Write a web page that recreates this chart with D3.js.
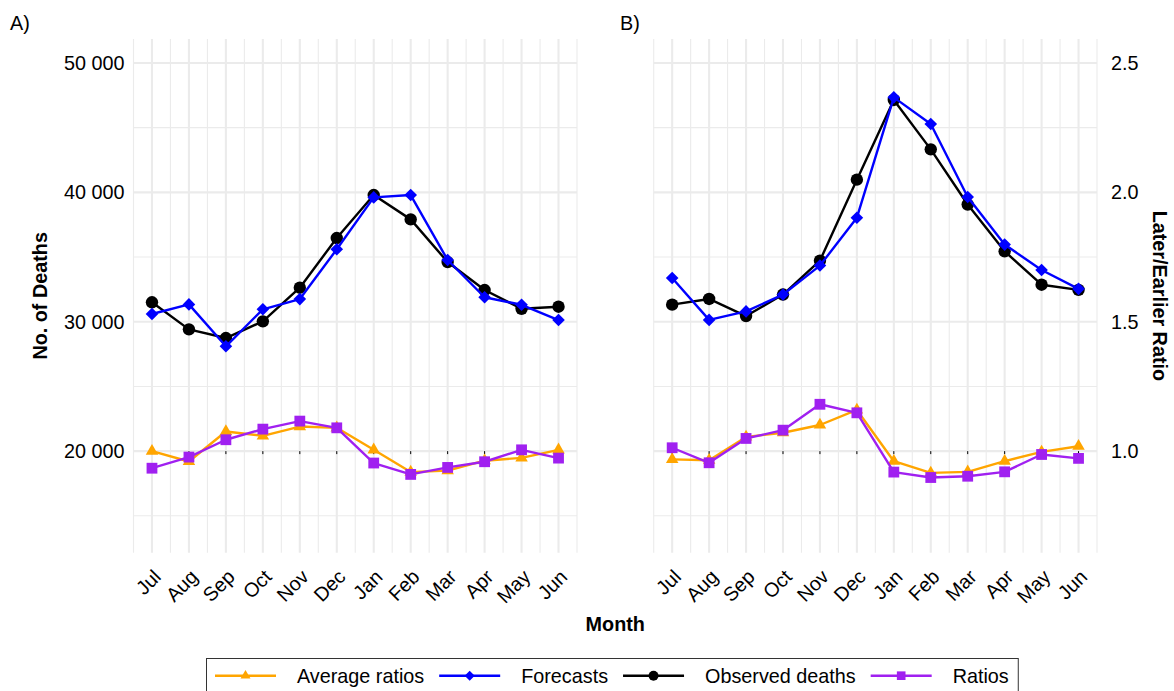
<!DOCTYPE html>
<html>
<head>
<meta charset="utf-8">
<script src="https://cdn.jsdelivr.net/npm/d3@7"></script>
<style>
  html, body { margin: 0; padding: 0; background: #ffffff; }
  svg { display: block; }
  text { font-family: "Liberation Sans", Arial, Helvetica, sans-serif; }
</style>
</head>
<body>
<svg id="chart" width="1174" height="691"></svg>
<script>
// ---------------- DATA ----------------
const months = ["Jul","Aug","Sep","Oct","Nov","Dec","Jan","Feb","Mar","Apr","May","Jun"];

// Panel A (deaths)
const observedA  = [31500, 29410, 28740, 30030, 32630, 36470, 39790, 37910, 34610, 32450, 31000, 31160];
const forecastsA = [30600, 31340, 28100, 30960, 31750, 35600, 39610, 39790, 34770, 31890, 31310, 30130];
// Panel A ratios
const ratiosA    = [0.934, 0.977, 1.044, 1.085, 1.116, 1.090, 0.954, 0.910, 0.937, 0.959, 1.005, 0.973];
const avgRatiosA = [1.000, 0.960, 1.076, 1.059, 1.095, 1.090, 1.005, 0.919, 0.925, 0.963, 0.974, 1.005];

// Panel B (deaths)
const observedB  = [31320, 31760, 30440, 32100, 34720, 40980, 47140, 43320, 39060, 35440, 32860, 32460];
const forecastsB = [33380, 30140, 30800, 32100, 34340, 38040, 47340, 45280, 39640, 35960, 34000, 32540];
// Panel B ratios
const ratiosB    = [1.013, 0.955, 1.049, 1.081, 1.181, 1.148, 0.919, 0.898, 0.903, 0.920, 0.987, 0.972];
const avgRatiosB = [0.968, 0.965, 1.055, 1.071, 1.101, 1.159, 0.961, 0.916, 0.920, 0.961, 0.997, 1.019];

// secondary axis transform: deaths = ratio * ratioScale
const ratioScale = 20000;
const deathTicks = [20000, 30000, 40000, 50000];
const deathMinorTicks = [15000, 25000, 35000, 45000];
const ratioTicks = [1.0, 1.5, 2.0, 2.5];
const yDomain = [12150, 51850];

const seriesNames = ["Average ratios", "Forecasts", "Observed deaths", "Ratios"];
const seriesColors = ["#FFA500", "#0000FF", "#000000", "#A020F0"];
const seriesShapes = ["triangle", "diamond", "circle", "square"];

// ---------------- LAYOUT ----------------
const svg = d3.select("#chart");
const FONT = 19.8;
const plotTop = 39, plotBottom = 552.7;
const panels = [
  { id: "A", label: "A)", labelX: 10, x0: 133.5, x1: 577,
    obs: observedA, fc: forecastsA, ratio: ratiosA, avg: avgRatiosA, axis: "left" },
  { id: "B", label: "B)", labelX: 620, x0: 653.7, x1: 1097,
    obs: observedB, fc: forecastsB, ratio: ratiosB, avg: avgRatiosB, axis: "right" }
];

const y = d3.scaleLinear().domain(yDomain).range([plotBottom, plotTop]);

function shapePath(shape, s) {
  if (shape === "circle") return d3.symbol(d3.symbolCircle, Math.PI * (6.2 * s) ** 2)();
  if (shape === "square") { const h = 5.4 * s; return `M${-h},${-h}H${h}V${h}H${-h}Z`; }
  if (shape === "diamond") { const h = 6.3 * s; return `M0,${-h}L${h},0L0,${h}L${-h},0Z`; }
  if (shape === "triangle") {
    const w = 12.5 * s, hgt = w * Math.sqrt(3) / 2;
    return `M0,${-hgt * 2 / 3}L${w / 2},${hgt / 3}L${-w / 2},${hgt / 3}Z`;
  }
}

panels.forEach(p => {
  const x = d3.scaleLinear().domain([-0.5, months.length - 0.5]).range([p.x0, p.x1]);
  const g = svg.append("g");

  const minorX = d3.range(-0.5, months.length, 1);
  g.selectAll(".vminor").data(minorX).join("line")
    .attr("x1", d => x(d)).attr("x2", d => x(d))
    .attr("y1", plotTop).attr("y2", plotBottom)
    .attr("stroke", "#ebebeb").attr("stroke-width", 1.1);
  g.selectAll(".hminor").data(deathMinorTicks).join("line")
    .attr("x1", p.x0).attr("x2", p.x1)
    .attr("y1", d => y(d)).attr("y2", d => y(d))
    .attr("stroke", "#ebebeb").attr("stroke-width", 1.1);
  g.selectAll(".vmajor").data(d3.range(months.length)).join("line")
    .attr("x1", d => x(d)).attr("x2", d => x(d))
    .attr("y1", plotTop).attr("y2", plotBottom)
    .attr("stroke", "#ebebeb").attr("stroke-width", 2.1);
  g.selectAll(".hmajor").data(deathTicks).join("line")
    .attr("x1", p.x0).attr("x2", p.x1)
    .attr("y1", d => y(d)).attr("y2", d => y(d))
    .attr("stroke", "#ebebeb").attr("stroke-width", 2.1);

  g.selectAll(".reftick").data(d3.range(months.length)).join("line")
    .attr("x1", d => x(d)).attr("x2", d => x(d))
    .attr("y1", y(ratioScale)).attr("y2", y(ratioScale) + 3)
    .attr("stroke", "#000").attr("stroke-width", 1);

  g.selectAll(".xlab").data(months).join("text")
    .attr("transform", (d, i) => `translate(${x(i)},568) rotate(-45)`)
    .attr("text-anchor", "end").attr("dy", "0.72em")
    .attr("font-size", FONT).attr("fill", "#000").text(d => d);

  if (p.axis === "left") {
    g.selectAll(".ylab").data(deathTicks).join("text")
      .attr("x", p.x0 - 9).attr("y", d => y(d)).attr("dy", "0.36em")
      .attr("text-anchor", "end").attr("font-size", FONT).attr("fill", "#000")
      .text(d => d3.format(",")(d).replace(/,/g, " "));
  } else {
    g.selectAll(".ylab").data(ratioTicks).join("text")
      .attr("x", p.x1 + 14).attr("y", d => y(d * ratioScale)).attr("dy", "0.36em")
      .attr("text-anchor", "start").attr("font-size", FONT).attr("fill", "#000")
      .text(d => d3.format(".1f")(d));
  }

  svg.append("text").attr("x", p.labelX).attr("y", 30)
    .attr("font-size", FONT).attr("fill", "#000").text(p.label);

  const seriesData = [
    p.avg.map(v => v * ratioScale),
    p.fc,
    p.obs,
    p.ratio.map(v => v * ratioScale)
  ];
  const line = d3.line().x((d, i) => x(i)).y(d => y(d));
  const order = [0, 3, 2, 1];
  order.forEach(k => {
    g.append("path").datum(seriesData[k])
      .attr("d", line).attr("fill", "none")
      .attr("stroke", seriesColors[k]).attr("stroke-width", 2.4)
      .attr("stroke-linejoin", "round");
    g.selectAll(null).data(seriesData[k]).join("path")
      .attr("transform", (d, i) => `translate(${x(i)},${y(d)})`)
      .attr("d", shapePath(seriesShapes[k], 1))
      .attr("fill", seriesColors[k]);
  });
});

svg.append("text")
  .attr("transform", `translate(47,${(plotTop + plotBottom) / 2}) rotate(-90)`)
  .attr("text-anchor", "middle").attr("font-size", FONT).attr("font-weight", "bold")
  .text("No. of Deaths");
svg.append("text")
  .attr("transform", `translate(1153,${(plotTop + plotBottom) / 2}) rotate(90)`)
  .attr("text-anchor", "middle").attr("font-size", FONT).attr("font-weight", "bold")
  .text("Later/Earlier Ratio");
svg.append("text")
  .attr("x", (panels[0].x0 + panels[1].x1) / 2).attr("y", 631)
  .attr("text-anchor", "middle").attr("font-size", FONT).attr("font-weight", "bold")
  .text("Month");

const legend = svg.append("g");
const legY = 675.7;
let lx = 215;
const boxLeft = 206;
seriesNames.forEach((name, k) => {
  const item = legend.append("g");
  item.append("line").attr("x1", lx).attr("x2", lx + 61)
    .attr("y1", legY).attr("y2", legY)
    .attr("stroke", seriesColors[k]).attr("stroke-width", 2.6);
  item.append("path").attr("transform", `translate(${lx + 30.5},${legY})`)
    .attr("d", shapePath(seriesShapes[k], 0.8)).attr("fill", seriesColors[k]);
  const t = item.append("text").attr("x", lx + 82).attr("y", legY).attr("dy", "0.36em")
    .attr("font-size", FONT).attr("fill", "#000").text(name);
  const w = t.node().getComputedTextLength();
  lx = lx + 82 + w + 15;
});
const boxRight = lx - 15 + 9;
legend.insert("rect", ":first-child")
  .attr("x", boxLeft + 0.5).attr("y", 658.5)
  .attr("width", boxRight - boxLeft).attr("height", 40)
  .attr("fill", "#fff").attr("stroke", "#333").attr("stroke-width", 1);
</script>
</body>
</html>
